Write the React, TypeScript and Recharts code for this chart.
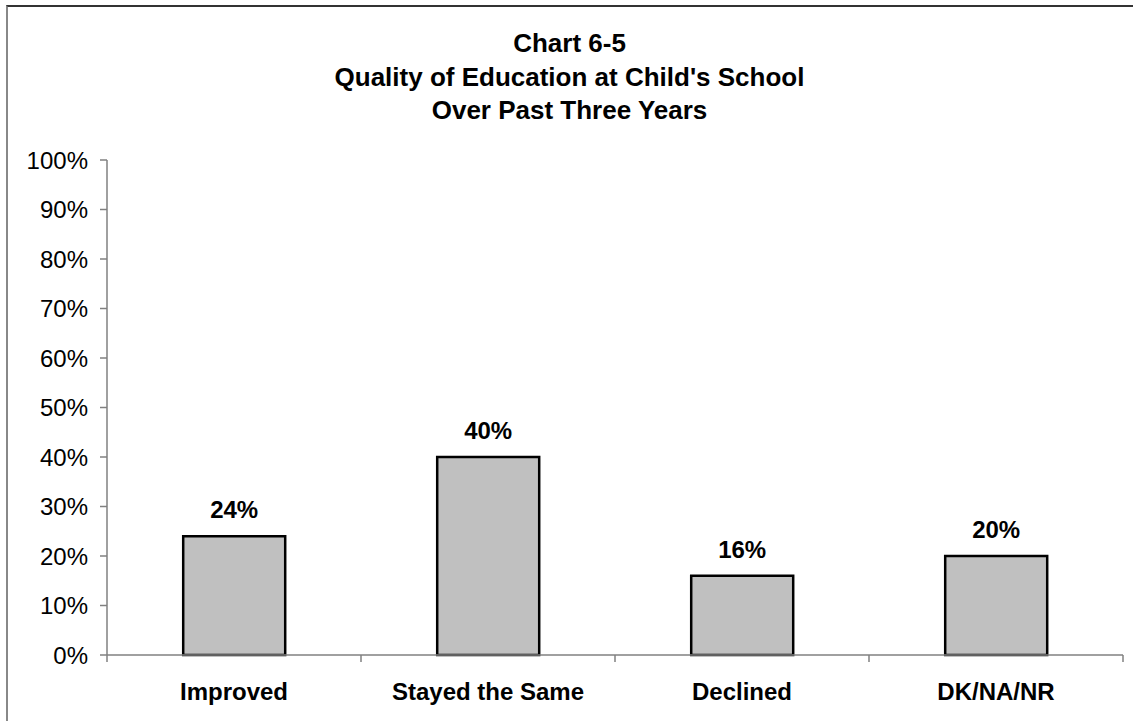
import React from 'react';
import { BarChart, Bar, XAxis, YAxis, LabelList } from 'recharts';

const categories = ['Improved', 'Stayed the Same', 'Declined', 'DK/NA/NR'];
const shares = [0.24, 0.40, 0.16, 0.20];
const yTicks = [0, 0.1, 0.2, 0.3, 0.4, 0.5, 0.6, 0.7, 0.8, 0.9, 1];
const titleLines = ['Chart 6-5', "Quality of Education at Child's School", 'Over Past Three Years'];

const data = categories.map((name, i) => ({ name, value: shares[i] }));
const pct = (v: any) => `${Math.round(Number(v) * 100)}%`;
const FONT = '"Liberation Sans", Arial, sans-serif';
const X_TICK_MARGIN = 28;

const CategoryTick = (props: any) => {
  const { x, y, payload, index, width } = props;
  const band = Number(width) / categories.length;
  const axisY = y - X_TICK_MARGIN;
  return (
    <g>
      {index === 0 && (
        <line x1={x - band / 2} x2={x - band / 2} y1={axisY} y2={axisY + 7} stroke="#808080" strokeWidth={1.5} />
      )}
      <line x1={x + band / 2} x2={x + band / 2} y1={axisY} y2={axisY + 7} stroke="#808080" strokeWidth={1.5} />
      <text x={x} y={y} dy="0.71em" textAnchor="middle" fill="#000" fontSize={24} fontWeight="bold" fontFamily={FONT}>
        {payload.value}
      </text>
    </g>
  );
};

export default function App() {
  return (
    <div style={{ position: 'absolute', left: 0, top: 0, width: 1133, height: 721, overflow: 'hidden', background: '#fff', fontFamily: FONT }}>
      <div style={{ position: 'absolute', left: 6, top: 5, width: 1200, height: 800, borderTop: '2px solid #333', borderLeft: '2px solid #888' }} />
      <div style={{ position: 'absolute', left: 0, top: 27.2, width: 1139, textAlign: 'center', fontWeight: 'bold', fontSize: 26, lineHeight: '33.5px', color: '#000' }}>
        {titleLines.map((t) => (
          <div key={t}>{t}</div>
        ))}
      </div>
      <div style={{ position: 'absolute', left: 0, top: 0 }}>
        <BarChart width={1133} height={721} data={data} margin={{ top: 160, right: 10, left: 7, bottom: 0 }} barCategoryGap="30%">
          <XAxis
            dataKey="name"
            height={66}
            axisLine={{ stroke: '#808080', strokeWidth: 1.5 }}
            tickLine={false}
            tickSize={0}
            tickMargin={X_TICK_MARGIN}
            interval={0}
            tick={<CategoryTick />}
          />
          <YAxis
            width={100}
            domain={[0, 1]}
            ticks={yTicks}
            interval={0}
            tickFormatter={pct}
            axisLine={{ stroke: '#808080', strokeWidth: 1.5 }}
            tickLine={{ stroke: '#808080', strokeWidth: 1.5 }}
            tickSize={7}
            tickMargin={12}
            tick={{ fill: '#000', fontSize: 24, fontFamily: FONT }}
          />
          <Bar dataKey="value" fill="#C0C0C0" stroke="#000" strokeWidth={2.5} isAnimationActive={false}>
            <LabelList dataKey="value" position="top" offset={18} formatter={pct} style={{ fill: '#000', fontSize: 24, fontWeight: 'bold', fontFamily: FONT }} />
          </Bar>
        </BarChart>
      </div>
    </div>
  );
}
